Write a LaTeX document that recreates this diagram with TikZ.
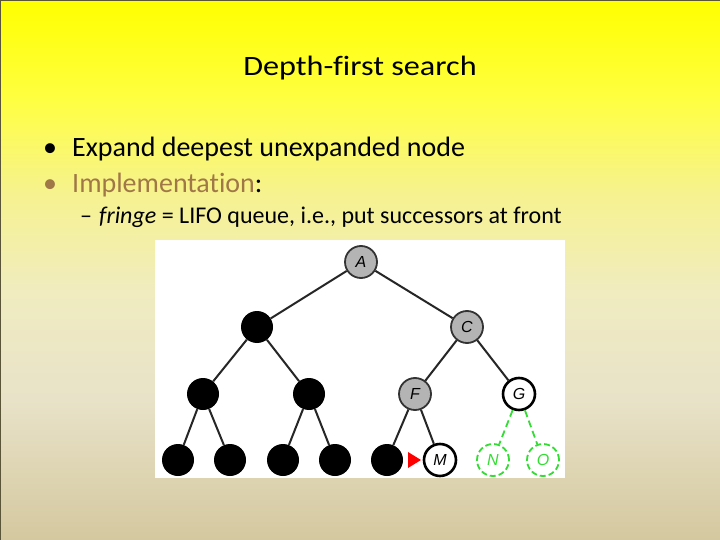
\documentclass[tikz,border=0pt]{standalone}
\usepackage{fontspec}
\setmainfont{Carlito}[Ligatures=NoCommon]
\newfontfamily\treefont{Liberation Sans}
\newfontfamily\titlefont[FakeStretch=1.15,Ligatures=NoCommon]{Carlito}
\definecolor{bgtan}{HTML}{D4C89F}
\definecolor{bgcream}{HTML}{E8E2C8}
\definecolor{bgpale}{HTML}{F0ECC0}
\definecolor{bglight}{HTML}{F6F290}
\definecolor{bgyel}{HTML}{FFFF40}
\definecolor{edgedark}{HTML}{5A5438}
\definecolor{implcol}{HTML}{A07848}
\definecolor{nodegray}{HTML}{B4B4B4}
\definecolor{newgreen}{HTML}{33DD33}
\pgfdeclareverticalshading{slidebg}{100bp}{color(0bp)=(bgtan); color(25bp)=(bgtan); color(38bp)=(bgcream); color(48bp)=(bgpale); color(57bp)=(bglight); color(66bp)=(bgyel); color(75bp)=(yellow); color(100bp)=(yellow)}
\tikzset{
  tn/.style={circle, minimum size=32pt, inner sep=0pt, font=\treefont\itshape\fontsize{16}{16}\selectfont},
  grayn/.style={tn, draw=black!80, line width=1.8pt, fill=nodegray},
  blackn/.style={tn, fill=black},
  openn/.style={tn, draw=black, line width=2.6pt, fill=white},
  greenn/.style={tn, draw=newgreen, dash pattern=on 6pt off 3pt, line width=1.8pt, fill=white, text=newgreen},
  edge/.style={line width=2pt, black!85},
  gedge/.style={line width=1.8pt, newgreen, dash pattern=on 7pt off 4pt},
  bigtxt/.style={inner sep=0pt, font=\fontsize{28}{32}\selectfont},
  subtxt/.style={inner sep=0pt, font=\fontsize{24}{28}\selectfont},
}
\begin{document}
\begin{tikzpicture}[x=1pt,y=-1pt]
\useasboundingbox (0,0) rectangle (720,540);
\shade[shading=slidebg] (0,0) rectangle (720,540);
\draw[edgedark, line width=1.2pt] (0.6,540) -- (0.6,0.6) -- (720,0.6);
% texts
\node[anchor=base, inner sep=0pt, font=\titlefont\fontsize{28}{32}\selectfont] (title) at (360,76) {Depth-first search};
\node[anchor=base, bigtxt] (b1) at (50,157) {•};
\node[anchor=base west, bigtxt] (t1) at (72,157) {Expand deepest unexpanded node};
\node[anchor=base, bigtxt, text=implcol] (b2) at (50,193) {•};
\node[anchor=base west, bigtxt] (t2) at (72,193) {\textcolor{implcol}{Implementation}:};
\node[anchor=base west, subtxt] (d3) at (80,224) {–};
\node[anchor=base west, subtxt] (t3) at (99,224) {\textit{fringe} = LIFO queue, i.e., put successors at front};
% tree panel
\fill[white] (155,240) rectangle (565,478);
\node[grayn] (A) at (361,262) {A};
\node[blackn] (B) at (257,327) {};
\node[grayn] (C) at (467,327) {C};
\node[blackn] (D) at (203,394) {};
\node[blackn] (E) at (309,394) {};
\node[grayn] (F) at (415,394) {F};
\node[openn] (G) at (519,394) {G};
\node[blackn] (H) at (178,460) {};
\node[blackn] (I) at (230,460) {};
\node[blackn] (J) at (283,460) {};
\node[blackn] (K) at (335,460) {};
\node[blackn] (L) at (387,460) {};
\node[openn] (M) at (440,460) {M};
\node[greenn] (N) at (493,460) {N};
\node[greenn] (O) at (543,460) {O};
\draw[edge] (A) -- (B);
\draw[edge] (A) -- (C);
\draw[edge] (B) -- (D);
\draw[edge] (B) -- (E);
\draw[edge] (C) -- (F);
\draw[edge] (C) -- (G);
\draw[edge] (D) -- (H);
\draw[edge] (D) -- (I);
\draw[edge] (E) -- (J);
\draw[edge] (E) -- (K);
\draw[edge] (F) -- (L);
\draw[edge] (F) -- (M);
\draw[gedge] (G) -- (N);
\draw[gedge] (G) -- (O);
\coordinate (tri) at (408,460);
\fill[red] (tri) ++(0,-8) -- ++(0,16) -- ++(13,-8) -- cycle;
\end{tikzpicture}
\end{document}
